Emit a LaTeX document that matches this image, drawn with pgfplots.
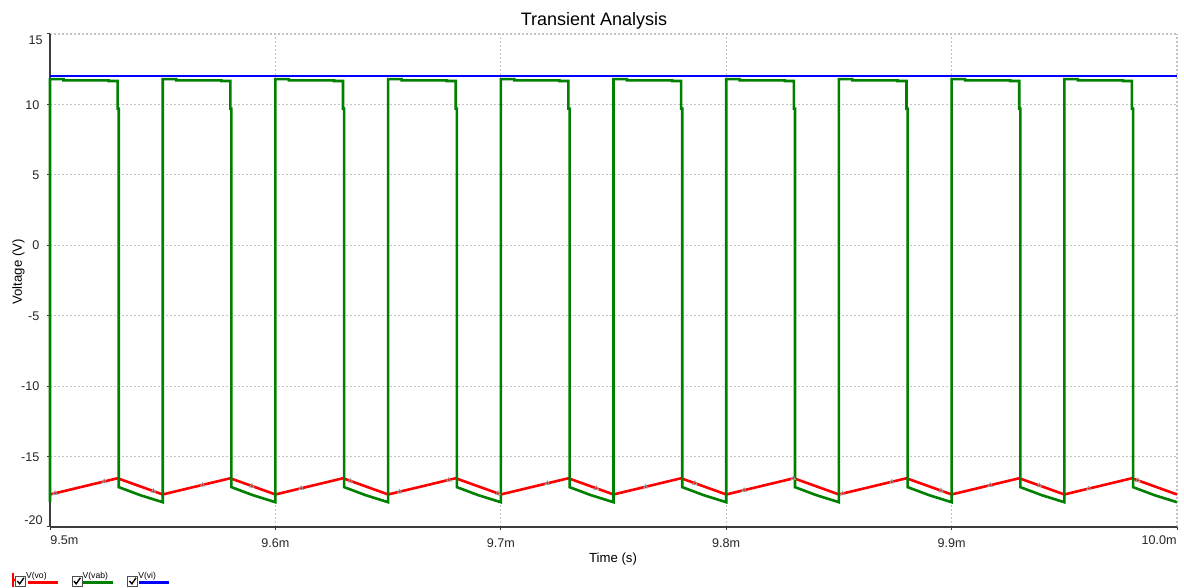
\documentclass[border=0pt]{standalone}
\usepackage{fontspec}
\setmainfont{Liberation Sans}
\usepackage{pgfplots}
\pgfplotsset{compat=1.18}
\definecolor{vored}{RGB}{255,0,0}
\definecolor{vabgreen}{RGB}{0,128,0}
\definecolor{viblue}{RGB}{0,0,255}
\definecolor{axcol}{RGB}{60,60,60}
\definecolor{gridcol}{RGB}{195,195,195}
\begin{document}
\begin{tikzpicture}[x=1pt,y=1pt]
\useasboundingbox (0,0) rectangle (592,294);
\begin{axis}[
  at={(25pt,30.5pt)}, anchor=south west,
  scale only axis, width=563.5pt, height=246.5pt,
  xmin=9.5, xmax=10, ymin=-20, ymax=15,
  axis lines*=left,
  axis line style={axcol, line width=0.6pt},
  clip=false,
  xtick={9.5,9.6,9.7,9.8,9.9,10.0},
  xticklabels={,9.6m,9.7m,9.8m,9.9m,},
  ytick={-20,-15,-10,-5,0,5,10,15},
  yticklabels={,-15,-10,-5,0,5,10,},
  tick align=outside, major tick length=1.6pt,
  tick style={axcol, line width=0.5pt},
  grid=major,
  major grid style={gridcol, line width=0.55pt, dash pattern=on 1pt off 1pt},
  /pgf/number format/assume math mode=true,
  ticklabel style={font=\fontsize{6.3}{7}\selectfont, text=black!85, inner sep=0pt},
  xticklabel style={anchor=base, yshift=-8.6pt},
  yticklabel style={anchor=base east, xshift=-3.5pt, yshift=-2.3pt},
]
\addplot[vored, line width=1.3pt] coordinates {
(9.5,-17.69)(9.53,-16.54)(9.55,-17.69)(9.58,-16.54)(9.6,-17.69)(9.63,-16.54)(9.65,-17.69)(9.68,-16.54)(9.7,-17.69)(9.73,-16.54)(9.75,-17.69)(9.78,-16.54)(9.8,-17.69)(9.83,-16.54)(9.85,-17.69)(9.88,-16.54)(9.9,-17.69)(9.93,-16.54)(9.95,-17.69)(9.98,-16.54)(10.0,-17.69)
};
\addplot[only marks, mark=triangle, mark size=1.2pt, gray!75, mark options={line width=0.4pt}] coordinates {
(9.50222,-17.605)(9.52406,-16.768)(9.54590,-17.454)(9.56773,-17.010)(9.58957,-17.090)(9.61141,-17.253)(9.63325,-16.727)(9.65509,-17.495)(9.67692,-16.658)(9.69876,-17.619)(9.72060,-16.900)(9.74244,-17.255)(9.76428,-17.143)(9.78611,-16.891)(9.80795,-17.385)(9.82979,-16.548)(9.85163,-17.627)(9.87347,-16.790)(9.89530,-17.420)(9.91714,-17.033)(9.93898,-17.056)(9.96082,-17.275)(9.98266,-16.693)
};
\addplot[vabgreen, line width=1.3pt, line join=miter] coordinates {
(9.5,-18.24)(9.5,11.8)(9.506,11.8)(9.506,11.71)(9.526,11.71)(9.526,11.66)(9.53,11.66)(9.53,9.7)(9.5305,9.7)(9.5305,-17.17)(9.54,-17.74)
(9.55,-18.24)(9.55,11.8)(9.556,11.8)(9.556,11.71)(9.576,11.71)(9.576,11.66)(9.58,11.66)(9.58,9.7)(9.5805,9.7)(9.5805,-17.17)(9.59,-17.74)
(9.6,-18.24)(9.6,11.8)(9.606,11.8)(9.606,11.71)(9.626,11.71)(9.626,11.66)(9.63,11.66)(9.63,9.7)(9.6305,9.7)(9.6305,-17.17)(9.64,-17.74)
(9.65,-18.24)(9.65,11.8)(9.656,11.8)(9.656,11.71)(9.676,11.71)(9.676,11.66)(9.68,11.66)(9.68,9.7)(9.6805,9.7)(9.6805,-17.17)(9.69,-17.74)
(9.7,-18.24)(9.7,11.8)(9.706,11.8)(9.706,11.71)(9.726,11.71)(9.726,11.66)(9.73,11.66)(9.73,9.7)(9.7305,9.7)(9.7305,-17.17)(9.74,-17.74)
(9.75,-18.24)(9.75,11.8)(9.756,11.8)(9.756,11.71)(9.776,11.71)(9.776,11.66)(9.78,11.66)(9.78,9.7)(9.7805,9.7)(9.7805,-17.17)(9.79,-17.74)
(9.8,-18.24)(9.8,11.8)(9.806,11.8)(9.806,11.71)(9.826,11.71)(9.826,11.66)(9.83,11.66)(9.83,9.7)(9.8305,9.7)(9.8305,-17.17)(9.84,-17.74)
(9.85,-18.24)(9.85,11.8)(9.856,11.8)(9.856,11.71)(9.876,11.71)(9.876,11.66)(9.88,11.66)(9.88,9.7)(9.8805,9.7)(9.8805,-17.17)(9.89,-17.74)
(9.9,-18.24)(9.9,11.8)(9.906,11.8)(9.906,11.71)(9.926,11.71)(9.926,11.66)(9.93,11.66)(9.93,9.7)(9.9305,9.7)(9.9305,-17.17)(9.94,-17.74)
(9.95,-18.24)(9.95,11.8)(9.956,11.8)(9.956,11.71)(9.976,11.71)(9.976,11.66)(9.98,11.66)(9.98,9.7)(9.9805,9.7)(9.9805,-17.17)(9.99,-17.74)(10.0,-18.24)
};
\addplot[viblue, line width=1.3pt] coordinates {(9.5,12.01)(10.0,12.01)};
% end tick labels
\node[anchor=base east, inner sep=0pt, font=\fontsize{6.3}{7}\selectfont, text=black!85, xshift=-3.5pt, yshift=-5.5pt] at (axis cs:9.5,15) {15};
\node[anchor=base east, inner sep=0pt, font=\fontsize{6.3}{7}\selectfont, text=black!85, xshift=-3.5pt, yshift=1pt] at (axis cs:9.5,-20) {-20};
\node[anchor=base west, inner sep=0pt, font=\fontsize{6.3}{7}\selectfont, text=black!85, yshift=-8.6pt] at (axis cs:9.5,-20) {9.5m};
\node[anchor=base east, inner sep=0pt, font=\fontsize{6.3}{7}\selectfont, text=black!85, yshift=-8.6pt] at (axis cs:10,-20) {10.0m};
\end{axis}
% titles
\node[anchor=base, inner sep=0pt, font=\fontsize{9}{10}\selectfont] at (297,281) {Transient Analysis};
\node[anchor=base, inner sep=0pt, font=\fontsize{6.6}{7}\selectfont] at (306.5,12.8) {Time (s)};
\node[anchor=base, rotate=90, inner sep=0pt, font=\fontsize{6.6}{7}\selectfont] at (10.9,158) {Voltage (V)};
% legend
\draw[vored, line width=0.6pt] (6.5,0.6)--(6.5,7.4);
\fill[vored] (6.5,2.6)--(7.7,4)--(6.5,5.4)--cycle;
\foreach \bx/\lx/\lc/\lt in {7.75/14/vored/V(vo), 36/41.5/vabgreen/V(vab), 63.85/69.5/viblue/V(vi)}{
  \draw[gray!60!black, line width=0.45pt, fill=white] (\bx,1) rectangle ++(5,5);
  \draw[black, line width=0.7pt] (\bx+0.9,3.5)--(\bx+2.1,2.1)--(\bx+4.2,5.1);
  \node[anchor=base west, inner sep=0pt, font=\fontsize{4.3}{5}\selectfont] at (\bx+5.1,4.9) {\lt};
  \draw[\lc, line width=1.3pt] (\lx,2.85)--++(15,0);
}
\end{tikzpicture}
\end{document}
